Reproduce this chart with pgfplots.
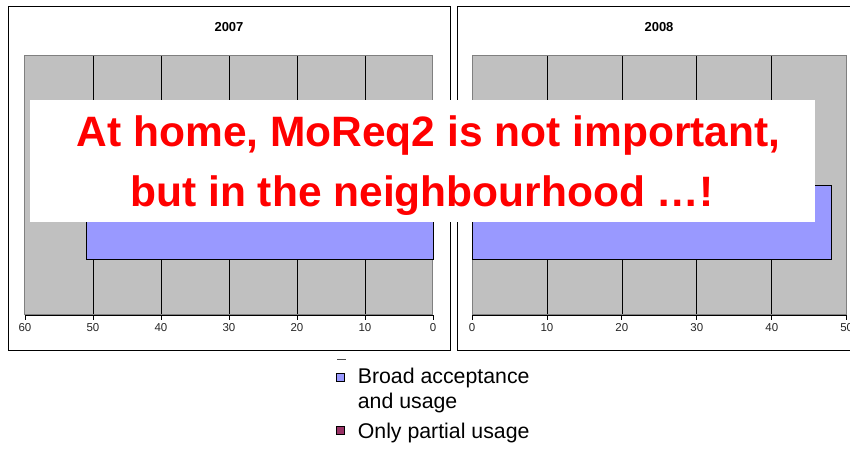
\documentclass[border=0pt]{standalone}
\usepackage{fontspec}
\setmainfont{Liberation Sans}
\usepackage{pgfplots}
\pgfplotsset{compat=1.18}
\definecolor{barblue}{HTML}{9999FF}
\definecolor{barmaroon}{HTML}{993366}
\definecolor{plotgray}{HTML}{C0C0C0}
\definecolor{bordergray}{HTML}{808080}
\pgfplotsset{
  panel/.style={
    scale only axis,
    height=259pt,
    xbar, bar width=0.2857, bar shift=0pt,
    ymin=0, ymax=1, ytick=\empty,
    axis background/.style={fill=plotgray},
    axis line style={bordergray, line width=1pt},
    xmajorgrids, grid style={black, line width=0.7pt},
    xtick pos=left, xtick align=outside,
    major tick length=5pt,
    every tick/.style={black, line width=0.8pt},
    tick label style={font=\fontsize{11.5}{12}\selectfont, text=black!85},
    extra x tick style={grid=none},
    /pgf/number format/assume math mode=true,
    clip=false,
  }
}
\begin{document}
\begin{tikzpicture}[x=1pt,y=1pt]
\useasboundingbox (0,0) rectangle (850,449);
\draw[black, line width=1pt] (8,98) rectangle (450,442);
\draw[black, line width=1pt] (457,98) rectangle (880,442);
\node[font=\bfseries\fontsize{13}{14}\selectfont] at (229,422) {2007};
\node[font=\bfseries\fontsize{13}{14}\selectfont] at (659,422) {2008};

\begin{axis}[panel,
  at={(25pt,134pt)}, anchor=south west,
  width=408pt, x dir=reverse,
  xmin=0, xmax=60, xtick={10,20,...,50}, extra x ticks={0,60},
  legend style={at={(axis description cs:0.755,-0.19)}, anchor=north west,
    draw=none, fill=none, font=\fontsize{21.3}{25}\selectfont,
    cells={anchor=west, align=left}, row sep=9pt,
    /tikz/every odd column/.append style={column sep=11pt}},
]
\addplot[fill=barblue, draw=black, line width=0.8pt, forget plot] coordinates {(51,0.357)};
\draw[black, line width=0.8pt] (rel axis cs:0,0) -- (rel axis cs:1,0);
\addlegendimage{legend image code/.code={\draw[fill=barblue,draw=black,line width=0.6pt] (0pt,8.5pt) rectangle (8pt,16.5pt);}}
\addlegendentry{Broad acceptance\\and usage}
\addlegendimage{legend image code/.code={\draw[fill=barmaroon,draw=black,line width=0.6pt] (0pt,-2pt) rectangle (8pt,6pt);}}
\addlegendentry{Only partial usage}
\end{axis}

\begin{axis}[panel,
  at={(472pt,134pt)}, anchor=south west,
  width=374.7pt,
  xmin=0, xmax=50, xtick={10,20,...,40}, extra x ticks={0,50},
]
\addplot[fill=barblue, draw=black, line width=0.8pt] coordinates {(48,0.357)};
\draw[black, line width=0.8pt] (rel axis cs:0,0) -- (rel axis cs:1,0);
\end{axis}

\draw[black!70, line width=0.6pt] (337,90) -- (346,90);

\fill[white] (30,227) rectangle (815,349);
\node[anchor=base, text=red, font=\bfseries\fontsize{42.5}{45}\selectfont, inner sep=0] at (428.5,302) {At home, MoReq2 is not important,};
\node[anchor=base, text=red, font=\bfseries\fontsize{42.5}{45}\selectfont, inner sep=0] at (422,242) {but in the neighbourhood …!};
\end{tikzpicture}
\end{document}
